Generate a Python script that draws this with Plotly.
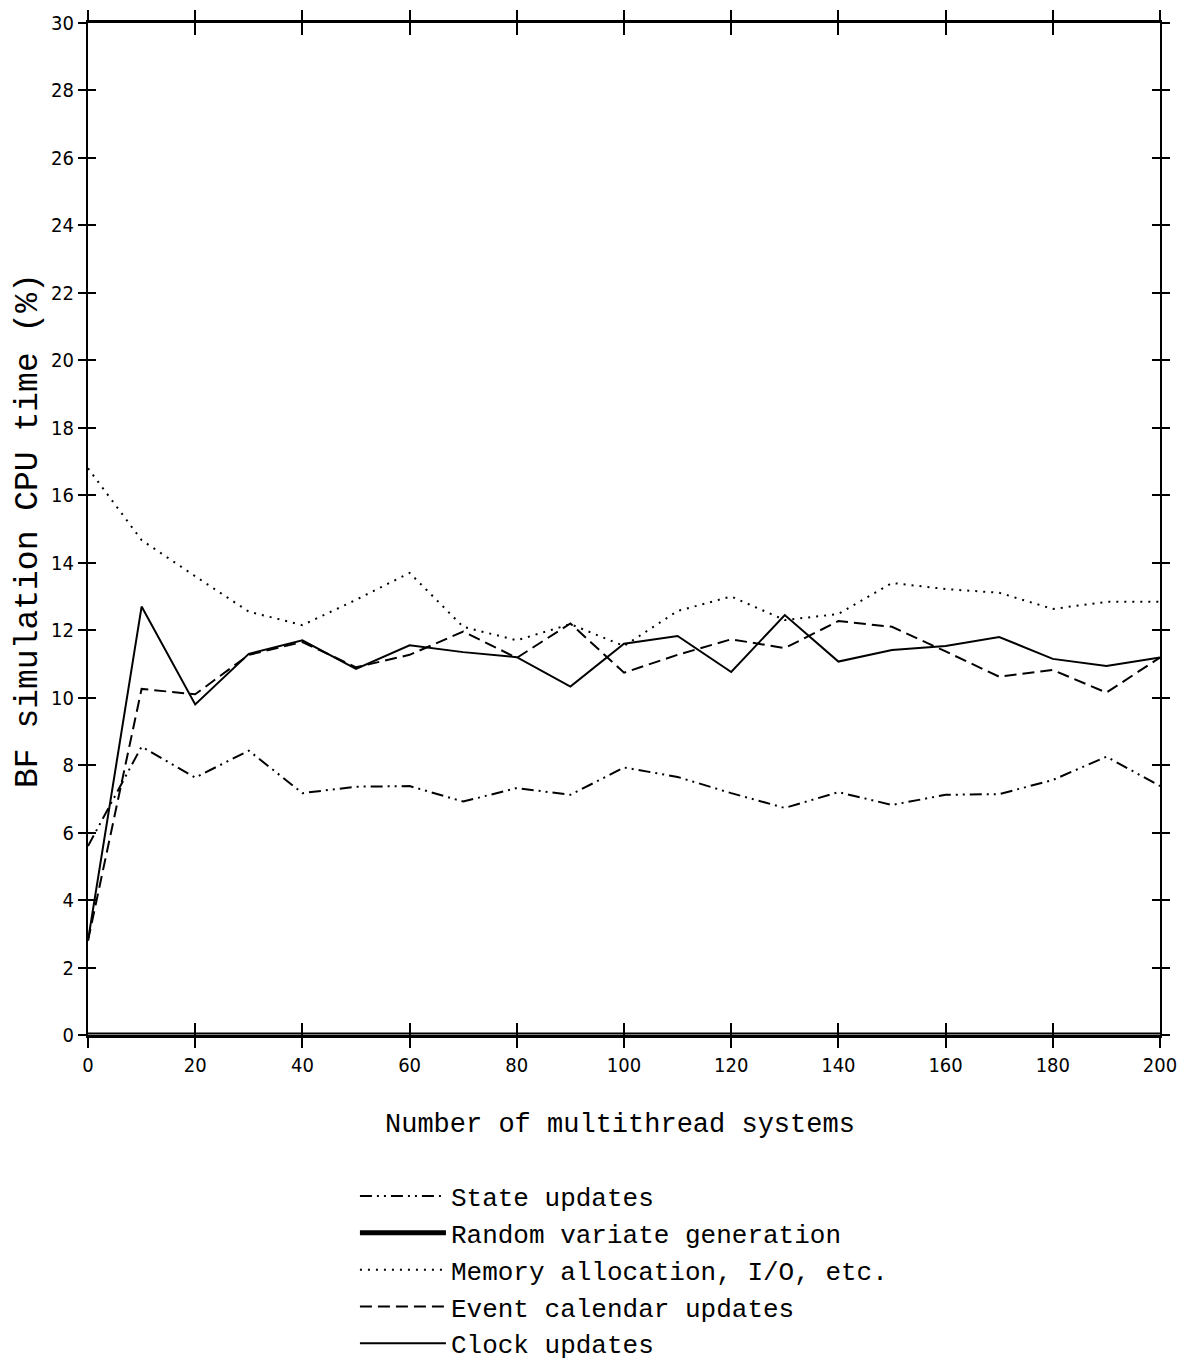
import plotly.graph_objects as go

x_systems = [0, 10, 20, 30, 40, 50, 60, 70, 80, 90, 100, 110, 120, 130, 140, 150, 160, 170, 180, 190, 200]

state_updates = [5.6, 8.55, 7.63, 8.43, 7.17, 7.36, 7.38, 6.92, 7.32, 7.12, 7.93, 7.65, 7.17, 6.73, 7.2, 6.82, 7.12, 7.14, 7.56, 8.25, 7.38]
random_variate = [0.0] * 21
memory_io = [16.8, 14.67, 13.6, 12.55, 12.15, 12.9, 13.7, 12.1, 11.7, 12.18, 11.53, 12.57, 13.0, 12.3, 12.48, 13.4, 13.22, 13.11, 12.63, 12.84, 12.84]
event_calendar = [2.8, 10.26, 10.1, 11.27, 11.65, 10.9, 11.27, 11.96, 11.18, 12.2, 10.74, 11.27, 11.73, 11.47, 12.27, 12.1, 11.37, 10.62, 10.82, 10.15, 11.19]
clock_updates = [2.8, 12.7, 9.8, 11.3, 11.7, 10.85, 11.55, 11.35, 11.2, 10.33, 11.6, 11.83, 10.76, 12.45, 11.07, 11.41, 11.53, 11.8, 11.15, 10.94, 11.19]

x_ticks = [0, 20, 40, 60, 80, 100, 120, 140, 160, 180, 200]
y_ticks = [0, 2, 4, 6, 8, 10, 12, 14, 16, 18, 20, 22, 24, 26, 28, 30]

MONO = "Liberation Mono, Courier New, monospace"
NARROW = "Liberation Sans Narrow, DejaVu Sans Condensed, Arial Narrow, sans-serif"

fig = go.Figure()
fig.add_trace(go.Scatter(x=x_systems, y=state_updates, mode="lines", name="State updates",
                         line=dict(color="black", width=2, dash="12px,5px,2px,5px,2px,5px")))
fig.add_trace(go.Scatter(x=x_systems, y=random_variate, mode="lines", name="Random variate generation",
                         line=dict(color="black", width=5)))
fig.add_trace(go.Scatter(x=x_systems, y=random_variate, mode="lines", showlegend=False,
                         line=dict(color="white", width=1), hoverinfo="skip"))
fig.add_trace(go.Scatter(x=x_systems, y=memory_io, mode="lines", name="Memory allocation, I/O, etc.",
                         line=dict(color="black", width=2, dash="2px,6px")))
fig.add_trace(go.Scatter(x=x_systems, y=event_calendar, mode="lines", name="Event calendar updates",
                         line=dict(color="black", width=2, dash="12px,6px")))
fig.add_trace(go.Scatter(x=x_systems, y=clock_updates, mode="lines", name="Clock updates",
                         line=dict(color="black", width=2)))

fig.update_layout(
    width=1181, height=1362,
    margin=dict(l=88, r=21, t=23, b=327, autoexpand=False),
    plot_bgcolor="white", paper_bgcolor="white",
    showlegend=True,
    legend=dict(x=0.249, y=-0.136, xanchor="left", yanchor="top",
                font=dict(family=MONO, size=26, color="black"),
                itemwidth=86, bgcolor="rgba(0,0,0,0)", tracegroupgap=0),
    xaxis=dict(range=[0, 200], tickvals=x_ticks, ticktext=[str(v) for v in x_ticks],
               showgrid=False, zeroline=False, showline=True, linecolor="black", linewidth=3,
               mirror="ticks", ticks="outside", ticklen=10, tickwidth=2, tickcolor="black",
               tickfont=dict(family=NARROW, size=20, color="black")),
    yaxis=dict(range=[0, 30], tickvals=y_ticks, ticktext=[str(v) for v in y_ticks],
               showgrid=False, zeroline=False, showline=True, linecolor="black", linewidth=2,
               mirror="ticks", ticks="outside", ticklen=8, tickwidth=2, tickcolor="black",
               tickfont=dict(family=NARROW, size=20, color="black")),
    xaxis2=dict(range=[0, 200], tickvals=x_ticks, overlaying="x", side="bottom",
                showgrid=False, zeroline=False, showline=False, showticklabels=False,
                mirror="ticks", ticks="inside", ticklen=12, tickwidth=2, tickcolor="black"),
    yaxis2=dict(range=[0, 30], tickvals=y_ticks, overlaying="y", side="left",
                showgrid=False, zeroline=False, showline=False, showticklabels=False,
                mirror="ticks", ticks="inside", ticklen=8, tickwidth=2, tickcolor="black"),
    annotations=[
        dict(text="Number of multithread systems", xref="paper", yref="paper", x=0.496, y=-0.089,
             xanchor="center", yanchor="middle", showarrow=False,
             font=dict(family=MONO, size=27, color="black")),
        dict(text="BF simulation CPU time (%)", xref="paper", yref="paper", x=-0.056, y=0.499,
             xanchor="center", yanchor="middle", showarrow=False, textangle=-90,
             font=dict(family=MONO, size=33, color="black")),
    ],
)
# invisible trace to activate the secondary (crossing-tick) axes
fig.add_trace(go.Scatter(x=[0], y=[0], xaxis="x2", yaxis="y2", mode="markers",
                         marker=dict(opacity=0), showlegend=False, hoverinfo="skip"))

fig.write_html("out.html")
